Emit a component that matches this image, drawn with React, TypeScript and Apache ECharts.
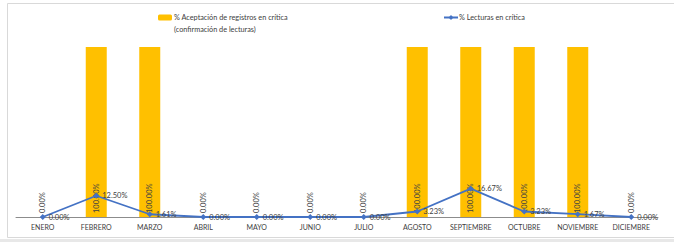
import React, { useEffect, useRef } from "react";
import * as echarts from "echarts";

const categories = ["ENERO", "FEBRERO", "MARZO", "ABRIL", "MAYO", "JUNIO", "JULIO", "AGOSTO", "SEPTIEMBRE", "OCTUBRE", "NOVIEMBRE", "DICIEMBRE"];
const aceptacion = [0, 100, 100, 0, 0, 0, 0, 100, 100, 100, 100, 0];
const lecturas = [0, 12.5, 1.61, 0, 0, 0, 0, 3.23, 16.67, 3.23, 1.67, 0];
const barName = "% Aceptación de registros en crítica";
const barNameLine2 = "(confirmación de lecturas)";
const lineName = "% Lecturas en crítica";

const FONT = "Lato, 'Noto Sans', sans-serif";
const TXT = "#404040";

export default function App() {
  const ref = useRef<HTMLDivElement>(null);
  useEffect(() => {
    if (!ref.current) return;
    const chart = echarts.init(ref.current, null, { renderer: "svg" });
    chart.setOption({
      animation: false,
      backgroundColor: "#ffffff",
      textStyle: { fontFamily: FONT },
      graphic: [
        { type: "rect", shape: { x: 7.5, y: 3.5, width: 700, height: 234 }, style: { fill: "none", stroke: "#D9D9D9", lineWidth: 1 }, silent: true },
        { type: "rect", shape: { x: 0, y: 239, width: 674, height: 3 }, style: { fill: "#E8E8E8" }, silent: true },
        { type: "text", x: 174, y: 29.5, style: { text: barNameLine2, fill: TXT, font: `7.3px ${FONT}`, verticalAlign: "middle" } },
      ],
      legend: [
        {
          data: [barName], left: 158, top: 14, padding: 0, itemWidth: 14, itemHeight: 6, itemGap: 2,
          textStyle: { color: TXT, fontSize: 7.3, fontFamily: FONT, padding: [0, 0, 0, -3] },
        },
        {
          data: [lineName], left: 443, top: 14, padding: 0, itemWidth: 14, itemHeight: 6,
          textStyle: { color: TXT, fontSize: 7.3, fontFamily: FONT, padding: [0, 0, 0, -4] },
        },
      ],
      grid: { left: 16, right: 16, top: 47, bottom: 25 },
      xAxis: {
        type: "category",
        data: categories,
        axisLine: { lineStyle: { color: "#8C8C8C", width: 1 } },
        axisTick: { show: false },
        axisLabel: { color: TXT, fontSize: 7, fontFamily: FONT, margin: 6, interval: 0 },
      },
      yAxis: { type: "value", min: 0, max: 100, show: false, splitLine: { show: false } },
      series: [
        {
          name: barName,
          type: "bar",
          data: aceptacion,
          barWidth: 21,
          itemStyle: { color: "#FFC000" },
          label: {
            show: true, position: "insideBottom", rotate: 90, align: "left", verticalAlign: "middle",
            distance: 4, color: TXT, fontSize: 7.5, fontFamily: FONT,
            formatter: (p: any) => p.value.toFixed(2) + "%",
          },
        },
        {
          name: lineName,
          type: "line",
          data: lecturas,
          symbol: "diamond",
          symbolSize: 6,
          lineStyle: { color: "#4472C4", width: 1.8 },
          itemStyle: { color: "#4472C4" },
          label: {
            show: true, position: "right", distance: 3, color: TXT, fontSize: 7.5, fontFamily: FONT,
            formatter: (p: any) => p.value.toFixed(2) + "%",
          },
          z: 3,
        },
      ],
    });
    return () => chart.dispose();
  }, []);
  return <div ref={ref} style={{ position: "fixed", left: 0, top: 0, width: 674, height: 242 }} />;
}
